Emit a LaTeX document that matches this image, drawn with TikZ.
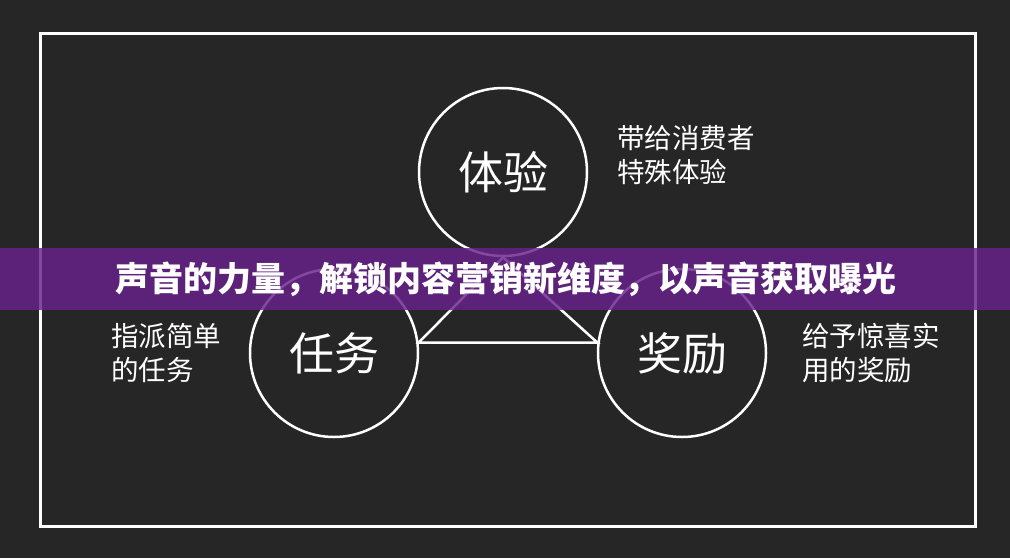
\documentclass[tikz,border=0pt]{standalone}
\usepackage{fontspec}
\newfontfamily\cjk{Noto Sans CJK SC}
\definecolor{bgdark}{HTML}{262626}
\definecolor{bandpurple}{HTML}{68208C}
\begin{document}
\begin{tikzpicture}[x=1pt,y=-1pt,
    circ/.style={draw=white, line width=2.5pt, circle, minimum size=168pt, inner sep=0pt,
      text=white, font=\cjk\fontsize{45}{48}\selectfont},
    side/.style={anchor=west, align=left, inner sep=0pt, text=white,
      font=\cjk\fontsize{27.5}{34.5}\selectfont}]

    \fill[bgdark] (0,0) rectangle (1010,558);
    \draw[white, line width=3pt] (40.5,33.5) rectangle (975.5,526.5);

    \node[circ] (exp) at (503,172) {体验};
    \node[circ] (task) at (334,353) {任务};
    \node[circ] (reward) at (682,353) {奖励};

    \draw[white, line width=2.5pt, line join=miter] (task.7) -- (exp.south) -- (reward.173) -- cycle;

    \node[side] (exptext) at (617,155) {带给消费者\\特殊体验};
    \node[side] (tasktext) at (111,353) {指派简单\\的任务};
    \node[side] (rewardtext) at (802,353) {给予惊喜实\\用的奖励};

    \fill[bandpurple, opacity=0.82] (0,248) rectangle (1010,310);
    \node[text=white, font=\cjk\bfseries\fontsize{34}{40}\selectfont] (title) at (506,279)
      {声音的力量，解锁内容营销新维度，以声音获取曝光};

\end{tikzpicture}
\end{document}
